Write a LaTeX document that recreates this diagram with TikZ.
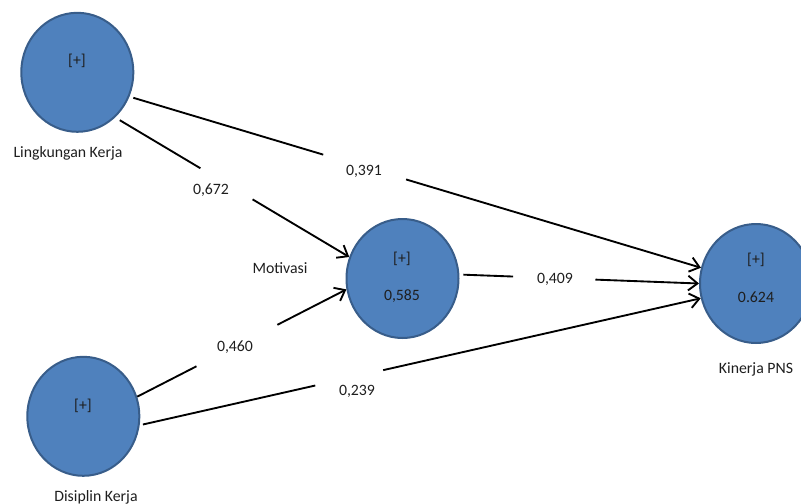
\documentclass[tikz,border=0pt]{standalone}
\usepackage{fontspec}
\setmainfont{Carlito}
\usetikzlibrary{arrows.meta,shapes.geometric,calc}
\definecolor{lvfill}{RGB}{79,129,189}
\definecolor{lvdraw}{RGB}{56,93,138}
\definecolor{txt}{RGB}{30,30,30}
\begin{document}
\begin{tikzpicture}[x=0.75pt,y=-0.75pt,
  font=\fontsize{11.85}{14}\selectfont,
  lv/.style={ellipse, draw=lvdraw, fill=lvfill, line width=1.5pt,
    minimum width=84pt, minimum height=89.25pt, inner sep=0pt},
  edge/.style={line width=1.4pt, black},
  arr/.style={edge, -{Straight Barb[length=7pt,width=11pt]}},
  lbl/.style={text=txt, inner sep=0pt}]
\path[use as bounding box] (0,0) rectangle (801,504);

% latent variables
\node[lv] (L) at (77.3,72.3) {};
\node[lv] (M) at (402.5,278.5) {};
\node[lv] (K) at (756,283.5) {};
\node[lv] (D) at (83.3,416.3) {};

% texts inside circles
\node[lbl] (Lp) at (77,61) {[+]};
\node[lbl] (Mp) at (402,259) {[+]};
\node[lbl] (Mr) at (402,296) {0,585};
\node[lbl] (Kp) at (756,260) {[+]};
\node[lbl] (Kr) at (756,297) {0.624};
\node[lbl] (Dp) at (83,406) {[+]};

% names
\node[lbl] (Ln) at (68,153) {Lingkungan Kerja};
\node[lbl] (Mn) at (280,268) {Motivasi};
\node[lbl] (Kn) at (756,369) {Kinerja PNS};
\node[lbl] (Dn) at (96,497) {Disiplin Kerja};

% path coefficients
\node[lbl] (c1) at (364,171) {0,391};
\node[lbl] (c2) at (211,190) {0,672};
\node[lbl] (c3) at (235,347) {0,460};
\node[lbl] (c4) at (357,391) {0,239};
\node[lbl] (c5) at (555,279) {0,409};

% gap ends
\coordinate (g1a) at ($(L.-25.6)!0.339!(K.164.5)$);
\coordinate (g1b) at ($(L.-25.6)!0.484!(K.164.5)$);
\coordinate (g2a) at ($(L.-50)!0.364!(M.158.8)$);
\coordinate (g2b) at ($(L.-50)!0.587!(M.158.8)$);
\coordinate (g3a) at ($(D.20.5)!0.283!(M.191.7)$);
\coordinate (g3b) at ($(D.20.5)!0.670!(M.191.7)$);
\coordinate (g4a) at ($(D.-9.4)!0.313!(K.195.9)$);
\coordinate (g4b) at ($(D.-9.4)!0.434!(K.195.9)$);
\coordinate (g5a) at ($(M.4.3)!0.224!(K.180)$);
\coordinate (g5b) at ($(M.4.3)!0.568!(K.180)$);

% connectors
\draw[edge, shorten <=3pt] (L.-25.6) -- (g1a);
\draw[arr] (g1b) -- (K.164.5);
\draw[edge, shorten <=4pt] (L.-50) -- (g2a);
\draw[arr] (g2b) -- (M.158.8);
\draw[edge] (D.20.5) -- (g3a);
\draw[arr] (g3b) -- (M.191.7);
\draw[edge, shorten <=2.5pt] (D.-9.4) -- (g4a);
\draw[arr] (g4b) -- (K.195.9);
\draw[edge, shorten <=3pt] (M.4.3) -- (g5a);
\draw[arr] (g5b) -- (K.180);
\end{tikzpicture}
\end{document}
